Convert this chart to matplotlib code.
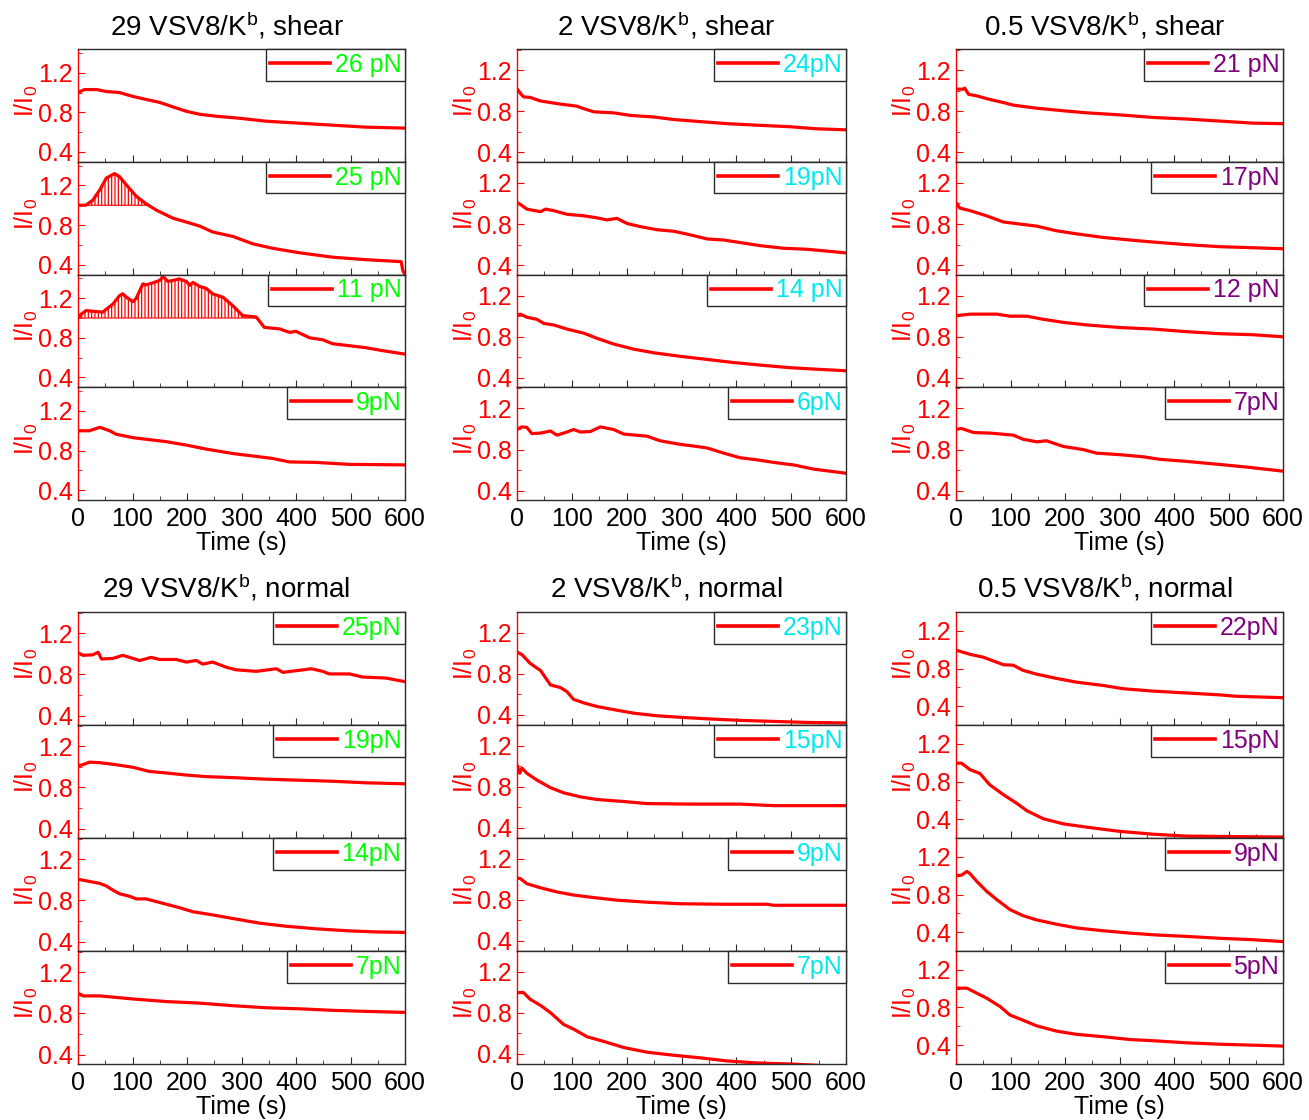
import numpy as np
import matplotlib.pyplot as plt
from matplotlib.ticker import MultipleLocator

plt.rcParams['font.family'] = ['Liberation Sans', 'DejaVu Sans']
plt.rcParams['mathtext.fontset'] = 'custom'
plt.rcParams['mathtext.rm'] = 'Liberation Sans'
plt.rcParams['mathtext.it'] = 'Liberation Sans:italic'
plt.rcParams['mathtext.default'] = 'regular'
plt.rcParams['hatch.linewidth'] = 0.9

# ===== data: time (s) and I/I0 =====
# 29 VSV8/Kb, shear
t_29s_26 = [0, 12, 34, 52, 76, 101, 125, 150, 174, 199, 223, 254, 296, 345, 406, 467, 528, 600]
i_29s_26 = [1.0, 1.03, 1.03, 1.01, 1.0, 0.96, 0.93, 0.90, 0.855, 0.81, 0.78, 0.76, 0.74, 0.71, 0.69, 0.67, 0.65, 0.64]
t_29s_25 = [0, 14, 27, 40, 52, 67, 76, 89, 107, 125, 144, 174, 199, 223, 247, 284, 321, 357, 406, 467, 528, 593, 596, 600]
i_29s_25 = [1.0, 1.0, 1.05, 1.155, 1.275, 1.32, 1.29, 1.205, 1.09, 1.015, 0.95, 0.87, 0.83, 0.79, 0.73, 0.685, 0.61,
            0.565, 0.52, 0.475, 0.45, 0.43, 0.34, 0.30]
t_29s_11 = [0, 6, 15, 34, 46, 52, 64, 76, 82, 89, 101, 107, 119, 125, 137, 150, 156, 165, 174, 186, 199, 205, 211,
            223, 235, 247, 266, 284, 302, 327, 342, 370, 388, 400, 425, 449, 467, 498, 528, 559, 600]
i_29s_11 = [1.0, 1.04, 1.075, 1.065, 1.06, 1.09, 1.14, 1.225, 1.245, 1.21, 1.165, 1.2, 1.345, 1.335, 1.355, 1.38,
            1.42, 1.37, 1.38, 1.395, 1.37, 1.33, 1.36, 1.32, 1.30, 1.245, 1.21, 1.125, 1.025, 1.01, 0.905, 0.89,
            0.855, 0.865, 0.80, 0.78, 0.74, 0.72, 0.70, 0.67, 0.635]
t_29s_9 = [0, 21, 40, 58, 70, 101, 131, 162, 199, 235, 284, 321, 357, 388, 437, 498, 600]
i_29s_9 = [1.0, 1.0, 1.035, 1.0, 0.965, 0.93, 0.91, 0.89, 0.855, 0.815, 0.77, 0.745, 0.72, 0.685, 0.68, 0.66, 0.655]

# 2 VSV8/Kb, shear
t_2s_24 = [0, 6, 12, 24, 43, 61, 79, 109, 122, 140, 176, 207, 249, 286, 334, 383, 438, 498, 547, 600]
i_2s_24 = [1.02, 0.975, 0.94, 0.935, 0.90, 0.885, 0.87, 0.85, 0.825, 0.795, 0.785, 0.76, 0.745, 0.72, 0.70, 0.68,
           0.665, 0.65, 0.63, 0.62]
t_2s_19 = [0, 9, 18, 43, 52, 67, 91, 122, 146, 164, 182, 201, 225, 255, 286, 316, 347, 377, 407, 444, 486, 529, 600]
i_2s_19 = [1.01, 0.98, 0.945, 0.92, 0.945, 0.93, 0.895, 0.88, 0.86, 0.84, 0.855, 0.805, 0.775, 0.745, 0.73, 0.695,
           0.655, 0.645, 0.62, 0.59, 0.565, 0.555, 0.52]
t_2s_14 = [0, 6, 18, 36, 49, 67, 91, 122, 146, 176, 213, 249, 298, 347, 395, 444, 498, 547, 600]
i_2s_14 = [1.005, 1.02, 0.99, 0.97, 0.93, 0.915, 0.875, 0.835, 0.785, 0.73, 0.68, 0.645, 0.61, 0.58, 0.55, 0.525,
           0.50, 0.485, 0.47]
t_2s_6 = [0, 9, 18, 27, 43, 61, 73, 91, 103, 116, 134, 152, 176, 195, 237, 261, 298, 328, 347, 377, 407, 438, 468,
          505, 541, 600]
i_2s_6 = [0.995, 1.02, 1.015, 0.955, 0.96, 0.98, 0.94, 0.97, 0.995, 0.97, 0.975, 1.02, 0.995, 0.95, 0.93, 0.885,
          0.85, 0.83, 0.815, 0.765, 0.72, 0.70, 0.675, 0.65, 0.61, 0.57]

# 0.5 VSV8/Kb, shear
t_05s_21 = [0, 13, 16, 23, 38, 62, 87, 105, 148, 197, 240, 301, 362, 423, 484, 545, 600]
i_05s_21 = [1.015, 1.015, 1.025, 0.965, 0.95, 0.915, 0.885, 0.86, 0.83, 0.805, 0.785, 0.765, 0.74, 0.725, 0.705,
            0.685, 0.68]
t_05s_17 = [0, 7, 26, 56, 87, 117, 148, 184, 221, 270, 319, 362, 423, 484, 545, 600]
i_05s_17 = [1.01, 0.955, 0.93, 0.88, 0.82, 0.80, 0.78, 0.735, 0.705, 0.67, 0.645, 0.625, 0.60, 0.58, 0.57, 0.56]
t_05s_12 = [0, 26, 75, 99, 130, 160, 197, 240, 301, 362, 423, 484, 545, 600]
i_05s_12 = [1.005, 1.02, 1.02, 1.0, 1.0, 0.97, 0.94, 0.915, 0.89, 0.875, 0.85, 0.83, 0.82, 0.80]
t_05s_7 = [0, 10, 32, 62, 105, 123, 148, 166, 197, 233, 258, 301, 343, 374, 423, 484, 533, 600]
i_05s_7 = [0.995, 1.005, 0.965, 0.96, 0.94, 0.90, 0.875, 0.885, 0.83, 0.80, 0.765, 0.75, 0.73, 0.705, 0.685, 0.655,
           0.63, 0.59]

# 29 VSV8/Kb, normal
t_29n_25 = [0, 9, 27, 37, 43, 64, 82, 95, 113, 134, 150, 180, 199, 217, 229, 247, 272, 290, 327, 364, 376, 406,
            428, 449, 461, 498, 522, 565, 600]
i_29n_25 = [1.01, 0.985, 0.99, 1.015, 0.95, 0.955, 0.985, 0.965, 0.935, 0.965, 0.945, 0.945, 0.92, 0.935, 0.90,
            0.92, 0.87, 0.845, 0.83, 0.855, 0.82, 0.84, 0.855, 0.83, 0.805, 0.805, 0.775, 0.765, 0.73]
t_29n_19 = [0, 9, 21, 40, 70, 101, 131, 162, 199, 235, 284, 345, 406, 467, 528, 600]
i_29n_19 = [1.01, 1.02, 1.045, 1.04, 1.02, 0.995, 0.955, 0.94, 0.92, 0.905, 0.895, 0.88, 0.87, 0.86, 0.845, 0.835]
t_29n_14 = [0, 15, 40, 52, 64, 76, 95, 107, 125, 150, 186, 211, 247, 284, 333, 382, 437, 498, 547, 600]
i_29n_14 = [1.005, 0.99, 0.965, 0.94, 0.90, 0.865, 0.84, 0.815, 0.815, 0.78, 0.73, 0.69, 0.66, 0.625, 0.58, 0.55,
            0.525, 0.505, 0.495, 0.49]
t_29n_7 = [0, 9, 40, 101, 162, 223, 284, 345, 406, 467, 528, 600]
i_29n_7 = [0.995, 0.97, 0.97, 0.94, 0.915, 0.90, 0.875, 0.855, 0.845, 0.83, 0.82, 0.81]

# 2 VSV8/Kb, normal
t_2n_23 = [0, 9, 24, 43, 61, 79, 91, 103, 122, 146, 176, 213, 255, 298, 347, 407, 468, 529, 600]
i_2n_23 = [1.01, 0.985, 0.90, 0.83, 0.69, 0.665, 0.625, 0.55, 0.515, 0.48, 0.45, 0.415, 0.39, 0.375, 0.36, 0.345,
           0.335, 0.325, 0.32]
t_2n_15 = [0, 5, 9, 18, 36, 61, 85, 116, 146, 195, 237, 316, 407, 468, 600]
i_2n_15 = [1.01, 0.93, 0.98, 0.93, 0.865, 0.79, 0.74, 0.70, 0.675, 0.655, 0.635, 0.63, 0.63, 0.615, 0.615]
t_2n_9 = [0, 6, 18, 43, 73, 103, 140, 182, 237, 298, 377, 456, 468, 600]
i_2n_9 = [1.01, 1.005, 0.955, 0.915, 0.875, 0.845, 0.82, 0.795, 0.775, 0.76, 0.755, 0.755, 0.745, 0.745]
t_2n_7 = [0, 12, 24, 43, 61, 85, 103, 128, 158, 195, 237, 286, 334, 383, 438, 498, 538, 570, 600]
i_2n_7 = [0.995, 0.995, 0.93, 0.87, 0.80, 0.685, 0.64, 0.565, 0.52, 0.46, 0.415, 0.385, 0.36, 0.33, 0.31, 0.30,
          0.29, 0.28, 0.275]

# 0.5 VSV8/Kb, normal
t_05n_22 = [0, 26, 50, 87, 105, 123, 148, 184, 221, 270, 307, 362, 423, 484, 514, 600]
i_05n_22 = [0.995, 0.95, 0.92, 0.84, 0.835, 0.78, 0.74, 0.695, 0.655, 0.62, 0.585, 0.56, 0.54, 0.52, 0.505, 0.49]
t_05n_15 = [0, 10, 26, 44, 62, 87, 111, 130, 160, 197, 240, 301, 362, 423, 514, 600]
i_05n_15 = [0.995, 0.995, 0.925, 0.885, 0.765, 0.66, 0.57, 0.49, 0.405, 0.35, 0.315, 0.27, 0.24, 0.22, 0.215, 0.21]
t_05n_9 = [0, 10, 20, 26, 38, 56, 75, 99, 123, 148, 184, 221, 270, 319, 368, 423, 484, 545, 600]
i_05n_9 = [1.0, 1.005, 1.045, 1.02, 0.94, 0.835, 0.745, 0.64, 0.575, 0.53, 0.485, 0.445, 0.415, 0.39, 0.37, 0.355,
           0.335, 0.32, 0.30]
t_05n_5 = [0, 20, 32, 56, 81, 99, 123, 148, 184, 221, 270, 319, 368, 423, 484, 545, 600]
i_05n_5 = [1.005, 1.005, 0.97, 0.90, 0.81, 0.72, 0.665, 0.605, 0.55, 0.515, 0.49, 0.46, 0.445, 0.425, 0.41, 0.40,
           0.39]

# ===== groups: (title, row, col, legend colour, labels, curves, hatched panels) =====
groups = [
    ("29 VSV8/K$^b$, shear", 0, 0, '#00FF00', ['26 pN', '25 pN', '11 pN', '9pN'],
     [(t_29s_26, i_29s_26), (t_29s_25, i_29s_25), (t_29s_11, i_29s_11), (t_29s_9, i_29s_9)], [1, 2]),
    ("2 VSV8/K$^b$, shear", 0, 1, '#00E8EE', ['24pN', '19pN', '14 pN', '6pN'],
     [(t_2s_24, i_2s_24), (t_2s_19, i_2s_19), (t_2s_14, i_2s_14), (t_2s_6, i_2s_6)], []),
    ("0.5 VSV8/K$^b$, shear", 0, 2, '#800080', ['21 pN', '17pN', '12 pN', '7pN'],
     [(t_05s_21, i_05s_21), (t_05s_17, i_05s_17), (t_05s_12, i_05s_12), (t_05s_7, i_05s_7)], []),
    ("29 VSV8/K$^b$, normal", 1, 0, '#00FF00', ['25pN', '19pN', '14pN', '7pN'],
     [(t_29n_25, i_29n_25), (t_29n_19, i_29n_19), (t_29n_14, i_29n_14), (t_29n_7, i_29n_7)], []),
    ("2 VSV8/K$^b$, normal", 1, 1, '#00E8EE', ['23pN', '15pN', '9pN', '7pN'],
     [(t_2n_23, i_2n_23), (t_2n_15, i_2n_15), (t_2n_9, i_2n_9), (t_2n_7, i_2n_7)], []),
    ("0.5 VSV8/K$^b$, normal", 1, 2, '#800080', ['22pN', '15pN', '9pN', '5pN'],
     [(t_05n_22, i_05n_22), (t_05n_15, i_05n_15), (t_05n_9, i_05n_9), (t_05n_5, i_05n_5)], []),
]

ylims = {(0, 0): (0.30, 1.44), (0, 1): (0.31, 1.405), (0, 2): (0.31, 1.405),
         (1, 0): (0.31, 1.405), (1, 1): (0.30, 1.40), (1, 2): (0.20, 1.40)}

W, H = 1309, 1120
col_left = [78, 517, 956]
col_right = [405, 846, 1283]
row_top = [49, 612]
row_bot = [500, 1064]
title_y = [26, 588]
frame_col = '#2b2b2b'

fig = plt.figure(figsize=(W / 100, H / 100), dpi=100)

for title, r, c, lcol, labels, curves, hatched in groups:
    x0, x1 = col_left[c], col_right[c]
    h = (row_bot[r] - row_top[r]) / 4.0
    fig.text((x0 + x1) / 2.0 / W - 15.0 / W, 1 - title_y[r] / H, title,
             ha='center', va='center', fontsize=20)
    for k in range(4):
        y0 = row_top[r] + k * h
        ax = fig.add_axes([x0 / W, 1 - (y0 + h) / H, (x1 - x0) / W, h / H])
        t = np.array(curves[k][0], dtype=float)
        y = np.array(curves[k][1], dtype=float)
        line, = ax.plot(t, y, color='#FF0000', lw=2.3, solid_joinstyle='round')
        if k in hatched:
            ax.fill_between(t, y, 1.0, where=y > 1.0, interpolate=True, facecolor='none',
                            edgecolor='#FF0000', hatch='|||||', lw=0.8)
        ax.set_xlim(0, 600)
        ax.set_ylim(*ylims[(r, c)])
        ax.xaxis.set_major_locator(MultipleLocator(100))
        ax.xaxis.set_minor_locator(MultipleLocator(50))
        ax.yaxis.set_major_locator(MultipleLocator(0.4))
        ax.yaxis.set_minor_locator(MultipleLocator(0.2))
        ax.tick_params(axis='x', which='both', direction='in', top=False, color=frame_col,
                       labelsize=18, pad=5)
        ax.tick_params(axis='x', which='major', length=5)
        ax.tick_params(axis='x', which='minor', length=3)
        ax.tick_params(axis='y', which='both', direction='in', right=False, color='#FF0000',
                       labelcolor='#FF0000', labelsize=18, pad=4)
        ax.tick_params(axis='y', which='major', length=5)
        ax.tick_params(axis='y', which='minor', length=3)
        for s in ['top', 'right', 'bottom']:
            ax.spines[s].set_color(frame_col)
            ax.spines[s].set_linewidth(1.0)
        ax.spines['left'].set_color('#FF0000')
        ax.spines['left'].set_linewidth(1.0)
        ax.set_ylabel('I/I$_0$', color='#FF0000', fontsize=18)
        ax.yaxis.set_label_coords(-0.115, 0.54)
        if k < 3:
            ax.tick_params(axis='x', labelbottom=False)
        else:
            ax.set_xlabel('Time (s)', fontsize=18, labelpad=0)
        leg = ax.legend([line], [labels[k]], loc='upper right', borderaxespad=0, fancybox=False,
                        framealpha=1, borderpad=0.15, handlelength=2.4, handletextpad=0.2,
                        fontsize=18, labelcolor=lcol)
        leg.get_frame().set_edgecolor(frame_col)
        leg.get_frame().set_linewidth(1.0)
        for hl in leg.get_lines():
            hl.set_linewidth(2.6)

fig.savefig('out.png', dpi=100)
